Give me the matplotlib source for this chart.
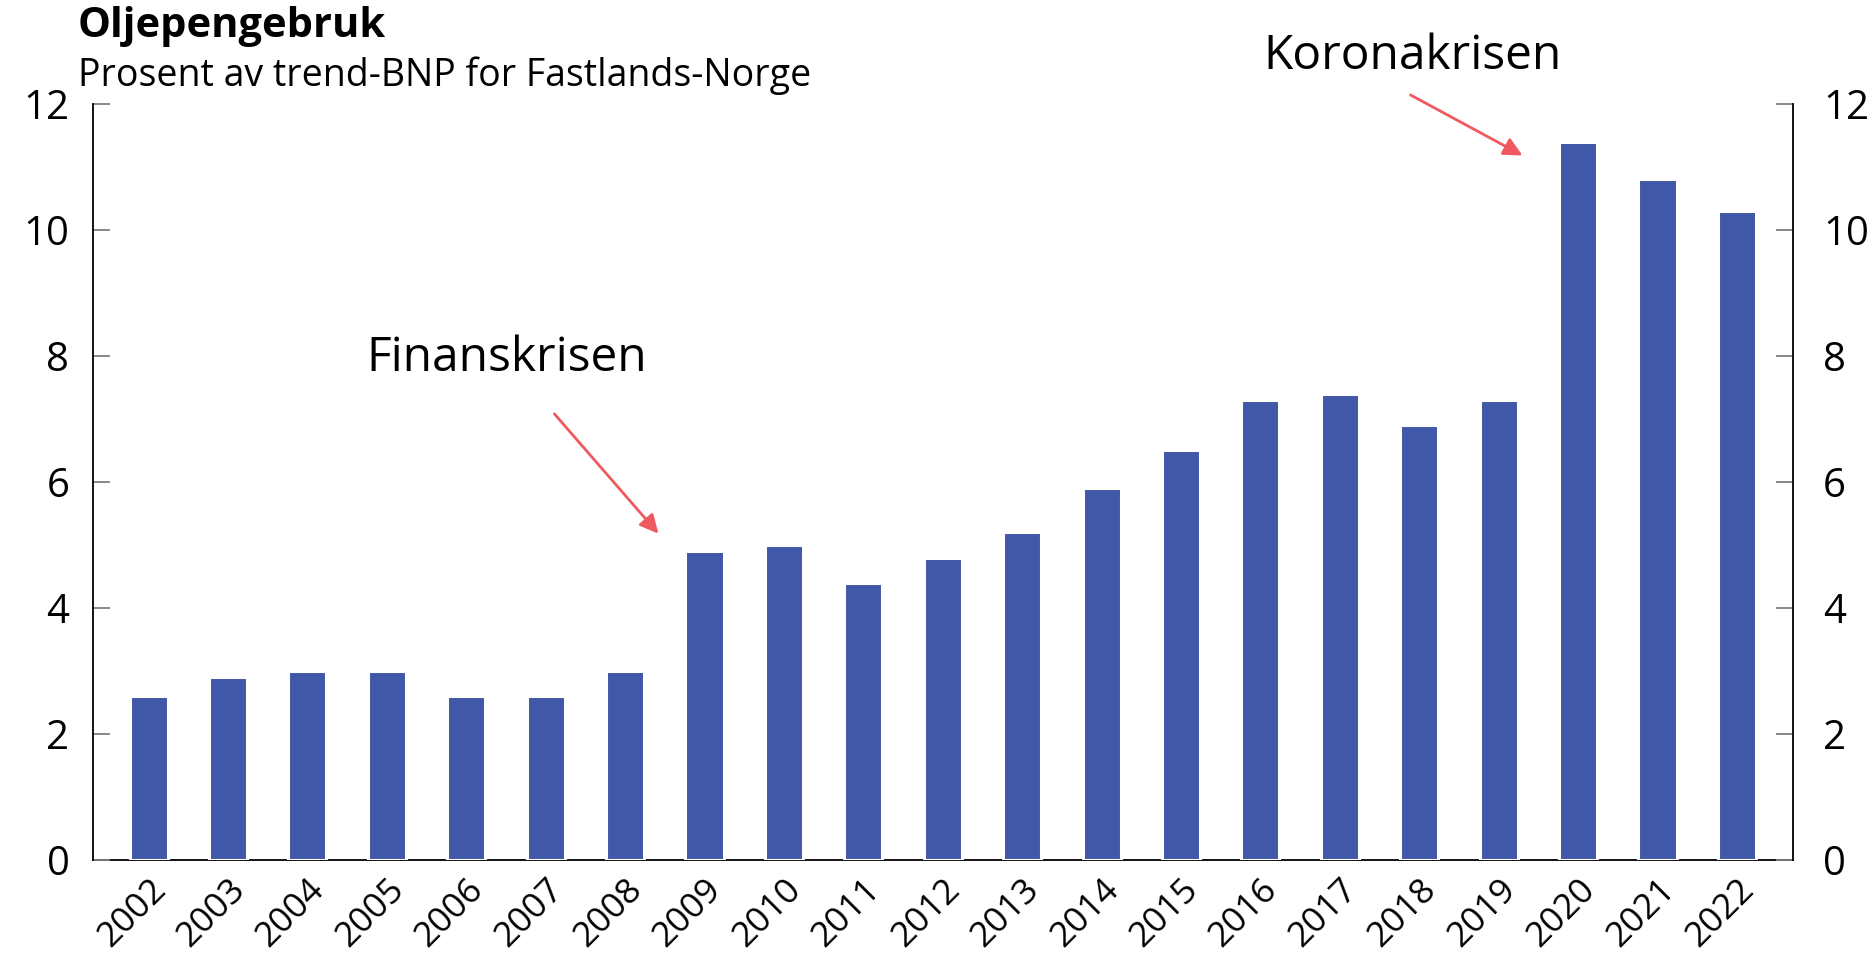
import matplotlib
matplotlib.use("Agg")
import matplotlib.pyplot as plt
import matplotlib.transforms as mtransforms
import numpy as np

plt.rcParams["font.family"] = ["Open Sans", "DejaVu Sans"]

YEARS = [str(y) for y in range(2002, 2023)]
SPENDING = [2.6, 2.9, 3.0, 3.0, 2.6, 2.6, 3.0, 4.9, 5.0, 4.4, 4.8,
            5.2, 5.9, 6.5, 7.3, 7.4, 6.9, 7.3, 11.4, 10.8, 10.3]
Y_TICKS = [0, 2, 4, 6, 8, 10, 12]

BAR_COLOR = "#4157A8"
ARROW_COLOR = "#EE5A5F"

fig = plt.figure(figsize=(18.75, 9.61), dpi=100)
ax = fig.add_axes([0.0496, 0.105, 0.9064, 0.787])

x = np.arange(len(YEARS))
ax.bar(x, SPENDING, width=0.48, color=BAR_COLOR, edgecolor="white",
       linewidth=2.2, zorder=3)

ax.set_xlim(-0.7, len(YEARS) - 0.3)
ax.set_ylim(0, 12)
ax.set_yticks(Y_TICKS)
ax.set_xticks(x)
ax.set_xticklabels(YEARS, rotation=45, ha="right", rotation_mode="anchor",
                   fontsize=25.5)

ax.spines["top"].set_visible(False)
for side in ("left", "right", "bottom"):
    ax.spines[side].set_linewidth(1.3)
    ax.spines[side].set_color("black")
ax.spines["bottom"].set_zorder(1)

ax.tick_params(axis="y", direction="in", length=12, width=1.3, color="grey",
               left=True, right=True, labelleft=True, labelright=True,
               labelsize=29, pad=17)
ax.tick_params(axis="x", length=0, pad=9)

# right-hand labels sit a bit further from the spine than the left ones
shift = mtransforms.ScaledTranslation(5 / 72, 0, fig.dpi_scale_trans)
for tick in ax.yaxis.get_major_ticks():
    tick.label2.set_transform(tick.label2.get_transform() + shift)

fig.text(0.0416, 0.972, "Oljepengebruk", fontsize=30, fontweight="bold",
         ha="left", va="center")
fig.text(0.0416, 0.921, "Prosent av trend-BNP for Fastlands-Norge",
         fontsize=27, ha="left", va="center")

arrow = dict(arrowstyle="-|>", color=ARROW_COLOR, lw=2, mutation_scale=28,
             shrinkA=0, shrinkB=0)
ax.annotate("", xy=(6.42, 5.18), xytext=(5.11, 7.08), arrowprops=arrow,
            annotation_clip=False)
ax.annotate("", xy=(17.30, 11.18), xytext=(15.89, 12.14), arrowprops=arrow,
            annotation_clip=False)
ax.text(4.51, 7.96, "Finanskrisen", fontsize=34.5, ha="center", va="center")
ax.text(15.92, 12.76, "Koronakrisen", fontsize=34.5, ha="center", va="center",
        clip_on=False)

fig.savefig("out.png", dpi=100)
